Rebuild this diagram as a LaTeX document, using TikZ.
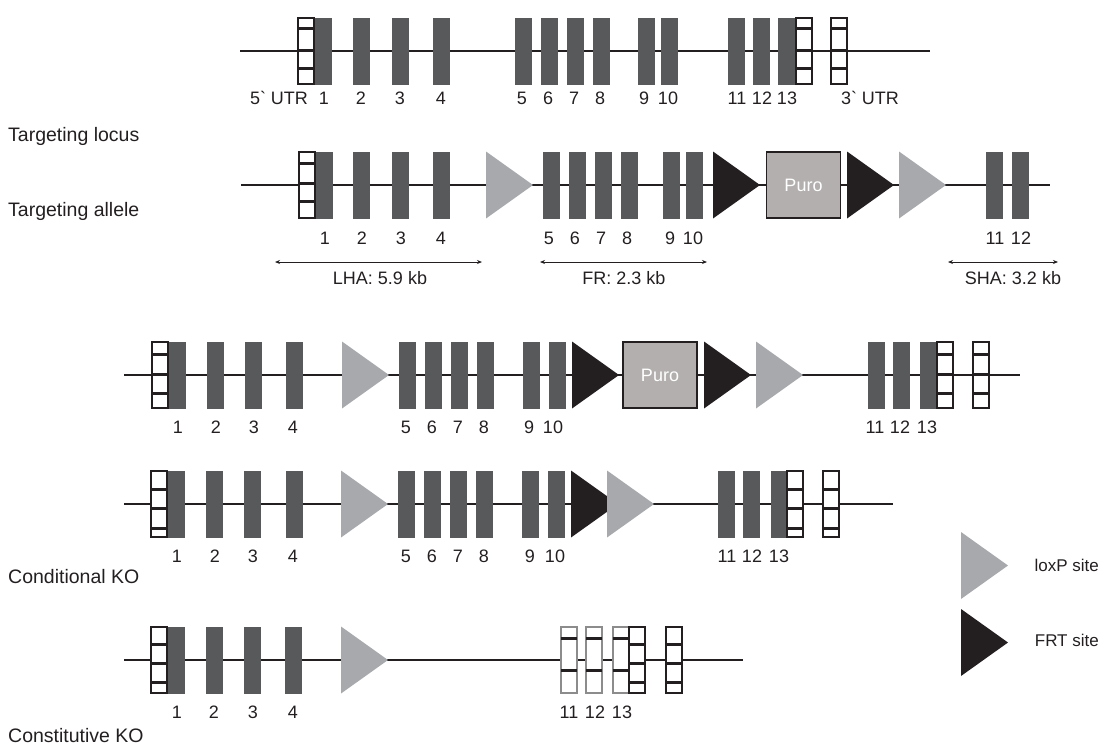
\documentclass[tikz,border=0pt]{standalone}
\usepackage{fontspec}
\setmainfont{Liberation Sans}
\usetikzlibrary{arrows.meta}
\definecolor{exonc}{HTML}{58595B}
\definecolor{loxc}{HTML}{A7A9AC}
\definecolor{frtc}{HTML}{231F20}
\definecolor{puroc}{HTML}{B2AFAE}
\definecolor{ghostc}{HTML}{8C8C8C}
\newcommand\utrstripes[4]{%
  \foreach \s in {#2,#3,#4}
    \draw[stripe] ([yshift=-\s pt]#1.north west) -- ([yshift=-\s pt]#1.north east);}
\newcommand\ghoststripes[3]{%
  \foreach \s in {#2,#3}
    \draw[stripe] ([yshift=-\s pt]#1.north west) -- ([yshift=-\s pt]#1.north east);}
\newcommand\tri[3]{\fill[#1] (#2,#3-33.5) -- (#2+47,#3) -- (#2,#3+33.5) -- cycle;}
\begin{document}
\begin{tikzpicture}[x=1pt,y=-1pt,
  exon/.style={rectangle,fill=exonc,minimum width=17pt,minimum height=67pt,inner sep=0pt,outer sep=0pt,anchor=west},
  utr/.style={rectangle,draw=frtc,line width=1.2pt,fill=white,minimum width=16pt,minimum height=66pt,inner sep=0pt,outer sep=0pt,anchor=west},
  ghost/.style={rectangle,draw=ghostc,line width=1.2pt,fill=white,minimum width=16pt,minimum height=66pt,inner sep=0pt,outer sep=0pt,anchor=west},
  stripe/.style={line width=3pt,frtc},
  backbone/.style={line width=2pt,frtc},
  puro/.style={rectangle,draw=frtc,line width=1.5pt,fill=puroc,minimum width=74pt,minimum height=66pt,inner sep=0pt,text=white,font=\fontsize{18}{20}\selectfont},
  lbl/.style={inner sep=0pt,font=\fontsize{18}{20}\selectfont,text=frtc},
  side/.style={inner sep=0pt,anchor=west,font=\fontsize{19.5}{22}\selectfont,text=frtc},
  legtxt/.style={inner sep=0pt,anchor=east,font=\fontsize{17}{19}\selectfont,text=frtc},
  dim/.style={line width=0.9pt,frtc,{Stealth[length=5pt,width=4pt]}-{Stealth[length=5pt,width=4pt]}}]
\useasboundingbox (0,0) rectangle (1101,745);

% ---------- backbones ----------
\coordinate (b1s) at (240,51);  \coordinate (b1e) at (930,51);
\coordinate (b2s) at (241,185); \coordinate (b2e) at (1050,185);
\coordinate (b3s) at (124,375); \coordinate (b3e) at (1020,375);
\coordinate (b4s) at (124,504); \coordinate (b4e) at (893,504);
\coordinate (b5s) at (124,660); \coordinate (b5e) at (743,660);
\draw[backbone] (b1s) -- (b1e);
\draw[backbone] (b2s) -- (b2e);
\draw[backbone] (b3s) -- (b3e);
\draw[backbone] (b4s) -- (b4e);
\draw[backbone] (b5s) -- (b5e);

% ---------- row 1: targeting locus ----------
\foreach \x/\n in {315/1,353/2,392/3,433/4,515/5,541/6,567/7,593/8,638/9,661/10,728/11,753/12,778/13}
  \node[exon] (ea\n) at (\x,51) {};
\node[utr] (ua1) at (298,51) {}; \utrstripes{ua1}{10}{32}{50}
\node[utr] (ua2) at (796,51) {}; \utrstripes{ua2}{10}{32}{50}
\node[utr] (ua3) at (831,51) {}; \utrstripes{ua3}{10}{32}{50}
\node[lbl] (la0) at (279,98) {5\textasciigrave\ UTR};
\foreach \x/\t in {324/1,361/2,400/3,441/4,522/5,548/6,574/7,600/8,644/9,668/10,737/11,762/12,787/13}
  \node[lbl] (la\t) at (\x,98) {\t};
\node[lbl] (la14) at (870,98) {3\textasciigrave\ UTR};
\node[side] (s1) at (8,136) {Targeting locus};

% ---------- row 2: targeting allele ----------
\foreach \x/\n in {316/1,353/2,392/3,433/4,543/5,569/6,595/7,621/8,663/9,686/10,986/11,1012/12}
  \node[exon] (eb\n) at (\x,185) {};
\node[utr] (ub1) at (299,185) {}; \utrstripes{ub1}{11}{31}{49}
\tri{loxc}{486}{185}
\tri{frtc}{713}{185}
\node[puro] (pb) at (803.5,185) {Puro};
\tri{frtc}{847}{185}
\tri{loxc}{899}{185}
\foreach \x/\t in {325/1,362/2,401/3,441/4,549/5,575/6,601/7,627/8,670/9,693/10,995/11,1021/12}
  \node[lbl] (lb\t) at (\x,238) {\t};
\coordinate (lhaL) at (275,262); \coordinate (lhaR) at (482,262);
\coordinate (frL) at (540,262);  \coordinate (frR) at (707,262);
\coordinate (shaL) at (948,262); \coordinate (shaR) at (1058,262);
\draw[dim] (lhaL) -- (lhaR);
\draw[dim] (frL) -- (frR);
\draw[dim] (shaL) -- (shaR);
\node[lbl] (lha) at (380,278) {LHA: 5.9 kb};
\node[lbl] (fr) at (624,278) {FR: 2.3 kb};
\node[lbl] (sha) at (1013,278) {SHA: 3.2 kb};
\node[side] (s2) at (8,211) {Targeting allele};

% ---------- row 3 ----------
\foreach \x/\n in {169/1,207/2,245/3,286/4,399/5,425/6,451/7,477/8,523/9,549/10,868/11,893/12,920/13}
  \node[exon] (ec\n) at (\x,375) {};
\node[utr] (uc1) at (152,375) {}; \utrstripes{uc1}{12}{32}{51}
\node[utr] (uc2) at (937,375) {}; \utrstripes{uc2}{12}{32}{51}
\node[utr] (uc3) at (973,375) {}; \utrstripes{uc3}{12}{32}{51}
\tri{loxc}{342}{375}
\tri{frtc}{572}{375}
\node[puro] (pc) at (660,375) {Puro};
\tri{frtc}{704}{375}
\tri{loxc}{756}{375}
\foreach \x/\t in {178/1,216/2,254/3,293/4,406/5,432/6,458/7,484/8,529/9,553/10,875/11,900/12,927/13}
  \node[lbl] (lc\t) at (\x,427) {\t};

% ---------- row 4: conditional KO ----------
\foreach \x/\n in {168/1,206/2,244/3,286/4,398/5,424/6,450/7,476/8,522/9,548/10,718/11,743/12,771/13}
  \node[exon] (ed\n) at (\x,504) {};
\node[utr] (ud1) at (151,504) {}; \utrstripes{ud1}{18}{37}{57}
\node[utr] (ud2) at (787,504) {}; \utrstripes{ud2}{18}{37}{57}
\node[utr] (ud3) at (823,504) {}; \utrstripes{ud3}{18}{37}{57}
\tri{loxc}{341}{504}
\tri{frtc}{571}{504}
\tri{loxc}{607}{504}
\foreach \x/\t in {177/1,215/2,253/3,293/4,406/5,432/6,458/7,484/8,530/9,555/10,727/11,752/12,779/13}
  \node[lbl] (ld\t) at (\x,556) {\t};
\node[side] (s3) at (8,577) {Conditional KO};

% ---------- row 5: constitutive KO ----------
\foreach \x/\n in {168/1,206/2,244/3,285/4}
  \node[exon] (ee\n) at (\x,660) {};
\node[utr] (ue1) at (151,660) {}; \utrstripes{ue1}{17}{36}{55}
\tri{loxc}{341}{660}
\node[ghost] (ge11) at (561,660) {}; \ghoststripes{ge11}{11}{43}
\node[ghost] (ge12) at (586,660) {}; \ghoststripes{ge12}{11}{43}
\node[ghost] (ge13) at (613,660) {}; \ghoststripes{ge13}{11}{43}
\node[utr] (ue2) at (629,660) {}; \utrstripes{ue2}{17}{36}{55}
\node[utr] (ue3) at (666,660) {}; \utrstripes{ue3}{17}{36}{55}
\foreach \x/\t in {177/1,214/2,253/3,293/4,569/11,595/12,622/13}
  \node[lbl] (le\t) at (\x,712) {\t};
\node[side] (s4) at (8,736) {Constitutive KO};

% ---------- legend ----------
\tri{loxc}{961}{565.5}
\tri{frtc}{961}{642.5}
\node[legtxt] (gl1) at (1099,565) {loxP site};
\node[legtxt] (gl2) at (1099,640) {FRT site};
\end{tikzpicture}
\end{document}
